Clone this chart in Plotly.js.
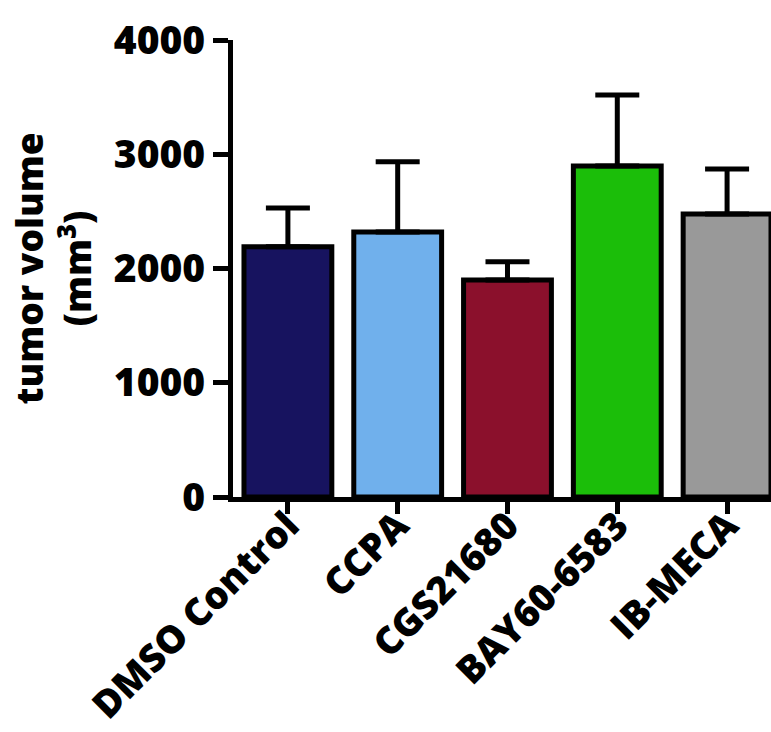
<!DOCTYPE html>
<html>
<head>
<meta charset="utf-8">
<script src="https://cdn.plot.ly/plotly-3.0.1.min.js"></script>
<style>html,body{margin:0;padding:0;background:#fff;}</style>
</head>
<body>
<div id="chart" style="width:771px;height:732px;"></div>
<script>
const categories = ["DMSO Control", "CCPA", "CGS21680", "BAY60-6583", "IB-MECA"];
const meanVolume = [2190, 2320, 1900, 2897, 2478];
const semUpper = [340, 615, 160, 622, 393];
const barColors = ["#17135f", "#70b0ec", "#8b102c", "#1bbe09", "#999999"];
const yTicks = [0, 1000, 2000, 3000, 4000];

const FAM = "Open Sans, sans-serif";

const trace = {
  type: "bar",
  x: categories,
  y: meanVolume,
  width: 0.8,
  marker: {color: barColors, line: {color: "#000", width: 5}},
  error_y: {type: "data", array: semUpper, symmetric: false, arrayminus: [0,0,0,0,0],
            color: "#000", thickness: 5, width: 22},
  hoverinfo: "none"
};

const layout = {
  width: 771, height: 732,
  margin: {l: 233, r: 0, t: 40, b: 235},
  paper_bgcolor: "#fff", plot_bgcolor: "#fff",
  showlegend: false,
  font: {family: FAM, size: 36, color: "#000", weight: 800},
  xaxis: {
    type: "category",
    range: [-0.5, 4.4],
    showline: true, linecolor: "#000", linewidth: 5,
    ticks: "outside", ticklen: 12, tickwidth: 5, tickcolor: "#000",
    tickangle: -45,
    ticklabelstandoff: -26,
    tickfont: {family: FAM, size: 38, color: "#000", weight: 800},
    showgrid: false, zeroline: false, fixedrange: true
  },
  yaxis: {
    range: [0, 4000],
    tickvals: yTicks,
    ticktext: yTicks.map(String),
    showline: true, linecolor: "#000", linewidth: 5,
    ticks: "outside", ticklen: 15, tickwidth: 5, tickcolor: "#000",
    tickfont: {family: FAM, size: 39, color: "#000", weight: 800},
    showgrid: false, zeroline: false, fixedrange: true,
    title: {text: "tumor volume<br>(mm<sup>3</sup>)", standoff: 12,
            font: {family: FAM, size: 37, color: "#000", weight: 800}}
  }
};

Plotly.newPlot("chart", [trace], layout, {displayModeBar: false, staticPlot: true});
</script>
</body>
</html>
